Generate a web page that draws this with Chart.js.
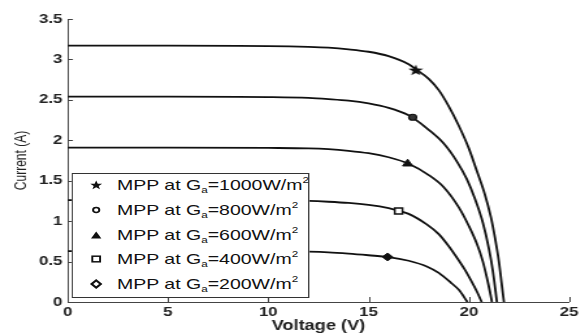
<!DOCTYPE html>
<html>
<head>
<meta charset="utf-8">
<title>I-V curves</title>
<script src="https://cdn.jsdelivr.net/npm/chart.js@4.4.1/dist/chart.umd.min.js"></script>
<style>
    html, body { margin: 0; padding: 0; background: #fff; }
    /* the reference picture is stretched sideways, so the whole figure is too */
    #wrap { position: relative; width: 448px; height: 335px; transform: scaleX(1.3); transform-origin: 0 0; }
    #chart { position: absolute; left: 0; top: 0; }
    .legend {
        position: absolute; left: 55.4px; top: 173px; width: 183px; height: 125px;
        border: 1px solid #333; background: #fff; box-sizing: border-box;
        font-family: "Liberation Sans", Arial, sans-serif; font-size: 15px; color: #111;
    }
    .legend .row { position: absolute; left: 0; width: 100%; height: 18px; line-height: 18px; white-space: nowrap; }
    .legend svg { position: absolute; left: 13px; top: 4px; }
    .legend .txt { position: absolute; left: 33.6px; top: 0; }
    .legend sub, .legend sup { font-size: 9px; line-height: 0; position: relative; vertical-align: baseline; }
    .legend sub { top: 3px; }
    .legend sup { top: -7px; }
</style>
</head>
<body>
<div id="wrap">
    <canvas id="chart" width="448" height="335"></canvas>
    <div class="legend" id="legend"></div>
</div>
<script>
// I-V curves (voltage in V, current in A)
const v1000 = [0, 5, 10, 12, 13, 14, 15, 16, 17, 17.4, 18, 18.5, 19, 19.5, 20, 20.4, 20.8, 21.1, 21.3, 21.5, 21.65, 21.75];
const i1000 = [3.17, 3.17, 3.165, 3.155, 3.145, 3.125, 3.095, 3.04, 2.94, 2.87, 2.76, 2.62, 2.42, 2.18, 1.9, 1.62, 1.33, 1.05, 0.8, 0.5, 0.2, 0];

const v800 = [0, 5, 10, 12, 13, 14, 15, 16, 17, 17.2, 18, 18.75, 19.4, 19.9, 20.3, 20.7, 21.0, 21.2, 21.4];
const i800 = [2.54, 2.54, 2.535, 2.525, 2.51, 2.49, 2.455, 2.4, 2.31, 2.28, 2.13, 1.96, 1.74, 1.52, 1.28, 0.98, 0.66, 0.38, 0];

const v600 = [0, 5, 10, 12, 13, 14, 15, 16, 17, 18, 18.75, 19.5, 20, 20.4, 20.7, 20.9, 21.05, 21.15];
const i600 = [1.91, 1.91, 1.905, 1.9, 1.89, 1.87, 1.84, 1.79, 1.71, 1.57, 1.42, 1.17, 0.94, 0.72, 0.5, 0.3, 0.13, 0];

const v400 = [0, 5, 10, 12, 13, 14, 15, 16, 16.55, 17, 17.9, 18.5, 19, 19.4, 19.8, 20.1, 20.4, 20.64];
const i400 = [1.26, 1.26, 1.255, 1.25, 1.24, 1.225, 1.2, 1.16, 1.125, 1.09, 0.96, 0.84, 0.69, 0.55, 0.4, 0.27, 0.13, 0];

const v200 = [0, 5, 10, 12, 13, 14, 15, 16, 17, 17.9, 18.5, 19.1, 19.5, 19.93];
const i200 = [0.63, 0.63, 0.628, 0.622, 0.614, 0.598, 0.578, 0.556, 0.51, 0.44, 0.36, 0.24, 0.15, 0];

// maximum power points, same order as the legend
const irradiance = [1000, 800, 600, 400, 200];
const mppV = [17.35, 17.2, 16.95, 16.5, 15.95];
const mppI = [2.87, 2.285, 1.71, 1.125, 0.557];

const FONT = '"Liberation Sans", Arial, sans-serif';
const INK = '#111';

const toPoints = (vs, is) => vs.map((v, k) => ({ x: v, y: is[k] }));

// filled five point star for the 1000 W/m2 marker
const starImg = document.createElement('canvas');
starImg.width = 12; starImg.height = 12;
(() => {
    const c = starImg.getContext('2d');
    c.beginPath();
    for (let k = 0; k < 10; k++) {
        const r = k % 2 ? 2.4 : 6;
        const a = -Math.PI / 2 + k * Math.PI / 5;
        c.lineTo(6 + r * Math.cos(a), 6.5 + r * Math.sin(a));
    }
    c.closePath();
    c.fillStyle = INK;
    c.fill();
})();

const markerStyles = [
    { pointStyle: starImg, pointRadius: 6, bg: INK, bw: 0 },
    { pointStyle: 'circle', pointRadius: 3, bg: '#333', bw: 1.2 },
    { pointStyle: 'triangle', pointRadius: 4.5, bg: INK, bw: 1 },
    { pointStyle: 'rect', pointRadius: 4.2, bg: '#fff', bw: 1.5 },
    { pointStyle: 'rectRot', pointRadius: 4, bg: INK, bw: 1 }
];

// svg markers for the html legend (needed for the subscripts)
const legendMarks = [
    '<polygon points="5,0.5 6.2,3.8 9.6,3.8 6.9,5.9 7.9,9.3 5,7.3 2.1,9.3 3.1,5.9 0.4,3.8 3.8,3.8" fill="#111"/>',
    '<circle cx="5" cy="5" r="2.4" fill="none" stroke="#111" stroke-width="1.5"/>',
    '<polygon points="5,1.5 9,8.5 1,8.5" fill="#111"/>',
    '<rect x="2" y="2.2" width="6" height="5.6" fill="none" stroke="#111" stroke-width="1.5"/>',
    '<polygon points="5,1.3 8.6,5 5,8.7 1.4,5" fill="none" stroke="#111" stroke-width="1.8"/>'
];

document.getElementById('legend').innerHTML = irradiance.map((g, k) => `
    <div class="row" style="top:${2 + k * 24.75}px;">
        <svg width="10" height="10" viewBox="0 0 10 10">${legendMarks[k]}</svg>
        <span class="txt">MPP at G<sub>a</sub>=${g}W/m<sup>2</sup></span>
    </div>
`).join('');

const curves = [
    toPoints(v1000, i1000),
    toPoints(v800, i800),
    toPoints(v600, i600),
    toPoints(v400, i400),
    toPoints(v200, i200)
];

const lineSets = curves.map(pts => ({
    type: 'line',
    data: pts,
    borderColor: INK,
    borderWidth: 1.8,
    pointRadius: 0,
    fill: false,
    cubicInterpolationMode: 'monotone',
    order: 2
}));

const mppSets = irradiance.map((g, k) => ({
    type: 'scatter',
    data: [{ x: mppV[k], y: mppI[k] }],
    pointStyle: markerStyles[k].pointStyle,
    pointRadius: markerStyles[k].pointRadius,
    backgroundColor: markerStyles[k].bg,
    borderColor: INK,
    borderWidth: markerStyles[k].bw,
    order: 1
}));

// MATLAB style tick marks that point into the plot
const innerTicks = {
    id: 'innerTicks',
    afterDraw(chart) {
        const { ctx, scales: { x, y } } = chart;
        ctx.save();
        ctx.strokeStyle = '#444';
        ctx.lineWidth = 1;
        ctx.beginPath();
        x.ticks.forEach(t => {
            const px = Math.round(x.getPixelForValue(t.value)) + 0.5;
            ctx.moveTo(px, y.bottom);
            ctx.lineTo(px, y.bottom - 5);
        });
        y.ticks.forEach(t => {
            const py = Math.round(y.getPixelForValue(t.value)) + 0.5;
            ctx.moveTo(x.left, py);
            ctx.lineTo(x.left + 4, py);
        });
        ctx.stroke();
        ctx.restore();
    }
};

new Chart(document.getElementById('chart'), {
    data: { datasets: [...lineSets, ...mppSets] },
    options: {
        responsive: false,
        animation: false,
        devicePixelRatio: 1,
        layout: { padding: { left: 0, right: 8, top: 19, bottom: 0 } },
        plugins: { legend: { display: false }, tooltip: { enabled: false } },
        scales: {
            x: {
                type: 'linear',
                min: 0, max: 25,
                ticks: { stepSize: 5, padding: 3, color: '#222', font: { family: FONT, size: 13, weight: 'bold' }, callback: v => String(v) },
                grid: { display: true, drawOnChartArea: false, drawTicks: false },
                border: { display: true, color: '#444', width: 1 },
                title: { display: true, text: 'Voltage (V)', color: '#222', padding: { top: 0, bottom: 0 }, font: { family: FONT, size: 14, weight: 'bold' } },
                afterFit(s) { s.height = 33; }
            },
            y: {
                type: 'linear',
                min: 0, max: 3.5,
                ticks: { stepSize: 0.5, padding: 4, color: '#222', font: { family: FONT, size: 13, weight: 'bold' }, callback: v => String(v) },
                grid: { display: true, drawOnChartArea: false, drawTicks: false },
                border: { display: true, color: '#444', width: 1 },
                title: { display: true, text: 'Current (A)', color: '#222', padding: { top: 9, bottom: 0 }, font: { family: FONT, size: 12 } },
                afterFit(s) { s.width = 52.1; }
            }
        }
    },
    plugins: [innerTicks]
});
</script>
</body>
</html>
